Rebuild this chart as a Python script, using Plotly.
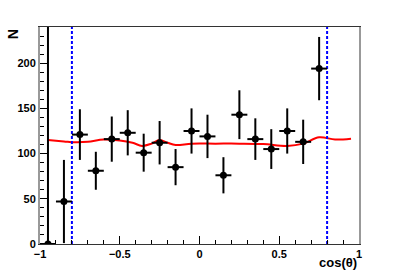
import plotly.graph_objects as go

# Data
cos_centers = [-0.95, -0.85, -0.75, -0.65, -0.55, -0.45, -0.35, -0.25, -0.15,
               -0.05, 0.05, 0.15, 0.25, 0.35, 0.45, 0.55, 0.65, 0.75]
counts = [0, 47, 121, 81, 116, 123, 101, 112, 85, 125, 119, 76, 143, 116, 105, 125, 113, 194]
count_err = [260, 46, 28, 21, 25, 25, 21, 24, 20, 25, 24, 20, 27, 23, 22, 25, 24.5, 35]
bin_half_width = [0.05] * len(cos_centers)

curve_x = [-0.95, -0.85, -0.78, -0.7, -0.6, -0.5, -0.42, -0.36, -0.3, -0.25, -0.2,
           -0.15, -0.05, 0.1, 0.25, 0.4, 0.55, 0.65, 0.75, 0.85, 0.95]
curve_y = [115, 113.5, 112.5, 113, 115.5, 114.5, 112, 108.5, 111, 115, 112,
           109.5, 111, 111, 111, 110.5, 108.5, 111, 118, 115.5, 116.5]

cut_lines = [-0.8, 0.8]
y_max = 240

x_ticks = [-1, -0.5, 0, 0.5, 1]
x_tick_text = ["\u22121", "\u22120.5", "0", "0.5", "1"]
y_ticks = [0, 50, 100, 150, 200]

fig = go.Figure()

fig.add_trace(go.Scatter(
    x=curve_x, y=curve_y, mode="lines",
    line=dict(color="#ff0000", width=2, shape="spline", smoothing=1.0),
    hoverinfo="skip", showlegend=False))

for xc in cut_lines:
    fig.add_trace(go.Scatter(
        x=[xc, xc], y=[0, y_max], mode="lines",
        line=dict(color="#0000ff", width=2, dash="3px,2px"),
        showlegend=False))

fig.add_trace(go.Scatter(
    x=cos_centers, y=counts, mode="markers",
    marker=dict(color="black", size=7, symbol="circle"),
    error_y=dict(type="data", array=count_err, color="black", thickness=2, width=0),
    error_x=dict(type="data", array=bin_half_width, color="black", thickness=2, width=0),
    showlegend=False, cliponaxis=True))

tick_font = dict(family="Liberation Sans, Arial, sans-serif", size=11, color="black", weight="bold")
title_font = dict(family="Liberation Sans, Arial, sans-serif", size=13, color="black", weight="bold")

fig.update_layout(
    width=399, height=272,
    margin=dict(l=40, r=40, t=27, b=28),
    plot_bgcolor="white", paper_bgcolor="white",
    showlegend=False,
    xaxis=dict(
        range=[-1, 1], tickvals=x_ticks, ticktext=x_tick_text,
        ticks="inside", ticklen=8, tickwidth=1, tickcolor="black",
        minor=dict(dtick=0.1, ticks="inside", ticklen=4, tickcolor="black"),
        showgrid=False, zeroline=False,
        showline=True, linecolor="#333333", linewidth=1, mirror=True,
        tickfont=tick_font, automargin=False,
    ),
    yaxis=dict(
        range=[0, y_max], tickvals=y_ticks,
        ticks="inside", ticklen=8, tickwidth=1, tickcolor="black",
        minor=dict(dtick=10, ticks="inside", ticklen=4, tickcolor="black"),
        showgrid=False, zeroline=False,
        showline=True, linecolor="#999999", linewidth=2, mirror=True,
        tickfont=tick_font, automargin=False,
    ),
    annotations=[
        dict(text="N", xref="paper", yref="paper", x=-0.085, y=1.0,
             xanchor="center", yanchor="top", textangle=90, showarrow=False,
             font=dict(family="Liberation Sans, Arial, sans-serif", size=14, color="black", weight="bold")),
        dict(text="cos(\u03b8)", xref="paper", yref="paper", x=1.0, y=-0.127,
             xanchor="right", yanchor="bottom", showarrow=False,
             font=title_font),
    ],
)

fig.write_html("out.html", post_script="document.body.style.margin='0';",
               config={"displayModeBar": False})
